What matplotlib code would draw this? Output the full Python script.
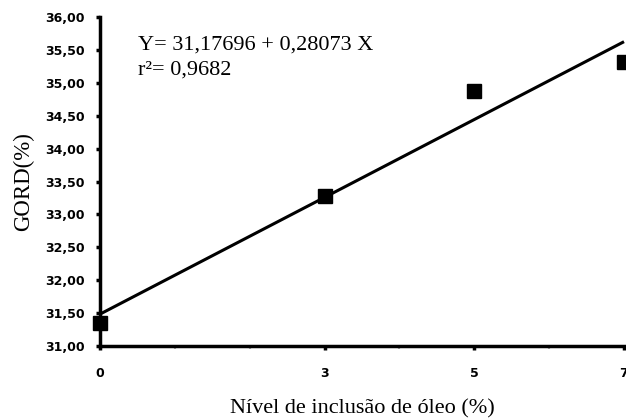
import matplotlib
matplotlib.use("Agg")
import matplotlib.pyplot as plt
import numpy as np
from matplotlib.ticker import FuncFormatter, FixedLocator

# Data
x_levels = [0, 3, 5, 7]
gord = [31.35, 33.28, 34.87, 35.31]
x_ticks = [0, 3, 5, 7]
y_ticks = [31.0, 31.5, 32.0, 32.5, 33.0, 33.5, 34.0, 34.5, 35.0, 35.5, 36.0]
equation = "Y= 31,17696 + 0,28073 X"
r2_text = "r²= 0,9682"
xlabel = "Nível de inclusão de óleo (%)"
ylabel = "GORD(%)"

fig = plt.figure(figsize=(6.26, 4.2), dpi=100)
ax = fig.add_axes([100/626, 74/420, 524/626, 329/420])

coef = np.polyfit(x_levels, gord, 1)
xl = np.array([0, 7])
ax.plot(xl, np.polyval(coef, xl), color="black", lw=2.2, solid_capstyle="butt", clip_on=False)
ax.plot(x_levels, gord, linestyle="none", marker="s", markersize=10.5,
        color="black", clip_on=False, zorder=5)

ax.set_xlim(0, 7)
ax.set_ylim(31, 36)
ax.xaxis.set_major_locator(FixedLocator(x_ticks))
ax.yaxis.set_major_locator(FixedLocator(y_ticks))
ax.xaxis.set_minor_locator(FixedLocator([1, 2, 4, 6]))
ax.yaxis.set_major_formatter(FuncFormatter(lambda v, p: f"{v:.2f}".replace(".", ",")))

for s in ["top", "right"]:
    ax.spines[s].set_visible(False)
for s in ["left", "bottom"]:
    ax.spines[s].set_linewidth(2.5)

ax.tick_params(axis="both", which="major", direction="out", length=3, width=2.5,
               labelsize=9)
ax.tick_params(axis="y", which="major", pad=8)
ax.tick_params(axis="x", which="minor", direction="out", length=2.5, width=1.5, color="#aaaaaa")
ax.tick_params(axis="x", which="major", pad=12)
for lab in ax.get_xticklabels() + ax.get_yticklabels():
    lab.set_fontweight("bold")
    lab.set_family("DejaVu Sans")

ax.set_xlabel(xlabel, family="Liberation Serif", fontsize=16, labelpad=14)
ax.set_ylabel(ylabel, family="Liberation Serif", fontsize=16.5, labelpad=8)

fig.text(138/626, 1 - 50/420, equation,
         family="Liberation Serif", fontsize=16, va="baseline", ha="left")
fig.text(138/626, 1 - 75/420, r2_text,
         family="Liberation Serif", fontsize=16, va="baseline", ha="left")

fig.savefig("out.png", dpi=100)
